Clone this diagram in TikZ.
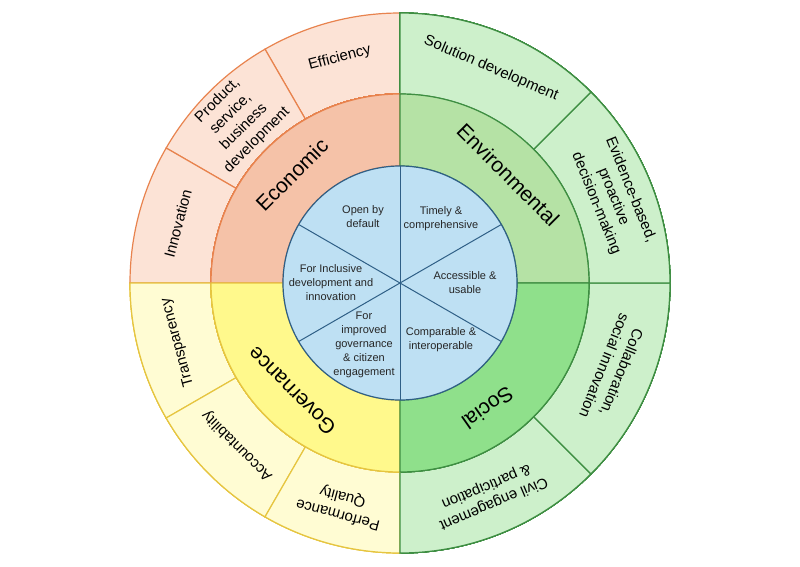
\documentclass[tikz,border=0pt]{standalone}
\usepackage{fontspec}
\setmainfont{Liberation Sans}
\definecolor{ecoline}{HTML}{E8834E}
\definecolor{ecomid}{HTML}{F5C2A8}
\definecolor{ecoout}{HTML}{FCE3D6}
\definecolor{envline}{HTML}{3E8E42}
\definecolor{envmid}{HTML}{B5E2A5}
\definecolor{envout}{HTML}{CDF0CB}
\definecolor{socmid}{HTML}{8FE08B}
\definecolor{govline}{HTML}{E6C540}
\definecolor{govmid}{HTML}{FFF98C}
\definecolor{govout}{HTML}{FFFCD3}
\definecolor{inline}{HTML}{2F5F86}
\definecolor{infill}{HTML}{BEE0F3}
% annular segment: fill, line, start, end, inner r, outer r
\newcommand{\ringseg}[6]{%
  \filldraw[fill=#1,draw=#2,line width=1.2pt] (#3:#5) -- (#3:#6)
    arc[start angle=#3,end angle=#4,radius=#6] -- (#4:#5)
    arc[start angle=#4,end angle=#3,radius=#5] -- cycle;}
\tikzset{
  midlbl/.style={font=\fontsize{21}{24}\selectfont},
  outlbl/.style={font=\fontsize{15}{18.5}\selectfont,align=center},
  innlbl/.style={font=\fontsize{11}{14}\selectfont,align=center,text=black!85}
}
\begin{document}
\begin{tikzpicture}[x=1pt,y=1pt]
  \useasboundingbox (-400,-283) rectangle (400,283);
  % outer ring
  \foreach \a in {90,120,150}
    \ringseg{ecoout}{ecoline}{\a}{\a+30}{189}{270}
  \foreach \a in {180,210,240}
    \ringseg{govout}{govline}{\a}{\a+30}{189}{270}
  \foreach \a in {-90,-45,0,45}
    \ringseg{envout}{envline}{\a}{\a+45}{189}{270}
  % middle ring
  \ringseg{ecomid}{ecoline}{90}{180}{117}{189}
  \ringseg{govmid}{govline}{180}{270}{117}{189}
  \ringseg{envmid}{envline}{0}{90}{117}{189}
  \ringseg{socmid}{envline}{-90}{0}{117}{189}
  % inner circle
  \filldraw[fill=infill,draw=inline,line width=1.2pt] (0,0) circle (117);
  \foreach \a in {30,90,150}
    \draw[inline,line width=1pt] (\a:117) -- (\a+180:117);
  % labels
  \node[midlbl,rotate=45] (eco) at (135:153) {Economic};
  \node[midlbl,rotate=-45] (env) at (45:153) {Environmental};
  \node[midlbl,rotate=-145] (soc) at (-55:153) {Social};
  \node[midlbl,rotate=135] (gov) at (225:153) {Governance};
  \node[outlbl,rotate=75] (inno) at (165:230) {Innovation};
  \node[outlbl,rotate=45] (prod) at (135:230) {Product,\\service,\\business\\development};
  \node[outlbl,rotate=15] (effi) at (105:233) {Efficiency};
  \node[outlbl,rotate=-23] (solu) at (67:233) {Solution development};
  \node[outlbl,rotate=-68] (evid) at (22:230) {Evidence-based,\\proactive\\decision-making};
  \node[outlbl,rotate=-112] (coll) at (-22:230) {Collaboration,\\social innovation};
  \node[outlbl,rotate=-157] (civi) at (-67:230) {Civil engagement\\\& participation};
  \node[outlbl,rotate=165] (perf) at (255:230) {Performance\\Quality};
  \node[outlbl,rotate=135] (acco) at (225:230) {Accountability};
  \node[outlbl,rotate=105] (tran) at (195:230) {Transparency};
  \node[innlbl] (open) at (-37,66) {Open by\\default};
  \node[innlbl] (time) at (41,64) {Timely \&\\comprehensive};
  \node[innlbl] (acce) at (65,0) {Accessible \&\\usable};
  \node[innlbl] (comp) at (41,-57) {Comparable \&\\interoperable};
  \node[innlbl] (impr) at (-36,-62) {For\\improved\\governance\\\& citizen\\engagement};
  \node[innlbl] (incl) at (-69,0) {For Inclusive\\development and\\innovation};
\end{tikzpicture}
\end{document}
